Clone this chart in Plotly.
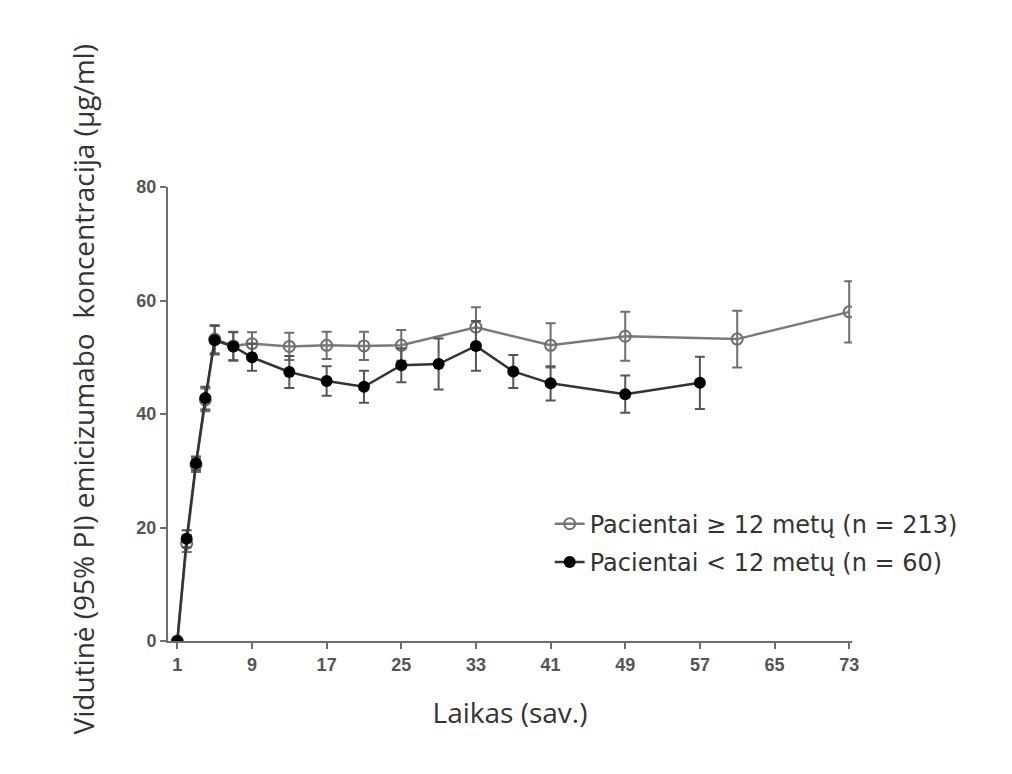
import plotly.graph_objects as go

# Patients >= 12 years (open markers)
weeks_old = [1, 2, 3, 4, 5, 7, 9, 13, 17, 21, 25, 33, 41, 49, 61, 73]
mean_old = [0, 17.2, 31.0, 42.5, 53.2, 52.0, 52.4, 51.9, 52.1, 52.0, 52.1, 55.3, 52.1, 53.7, 53.2, 58.0]
err_old = [0, 1.5, 1.2, 2.0, 2.5, 2.5, 2.0, 2.4, 2.4, 2.5, 2.7, 3.5, 3.9, 4.3, 5.0, 5.4]

# Patients < 12 years (filled markers)
weeks_young = [1, 2, 3, 4, 5, 7, 9, 13, 17, 21, 25, 29, 33, 37, 41, 49, 57]
mean_young = [0, 18.0, 31.3, 42.8, 53.0, 51.9, 50.0, 47.4, 45.8, 44.8, 48.6, 48.8, 52.0, 47.5, 45.4, 43.5, 45.5]
err_young = [0, 1.5, 1.2, 2.0, 2.5, 2.5, 2.4, 2.8, 2.6, 2.8, 3.0, 4.5, 4.4, 2.9, 3.0, 3.3, 4.6]

x_ticks = [1, 9, 17, 25, 33, 41, 49, 57, 65, 73]
y_ticks = [0, 20, 40, 60, 80]

fig = go.Figure()
fig.add_trace(go.Scatter(
    x=weeks_old, y=mean_old, mode="lines+markers",
    name="Pacientai ≥ 12 metų (n = 213)", legendgroup="a",
    line=dict(color="#7a7a7a", width=2.5),
    marker=dict(symbol="circle-open", size=11, color="#6e6e6e", line=dict(width=2)),
    error_y=dict(type="data", array=err_old, visible=True, color="#6e6e6e", thickness=2, width=5),
))
fig.add_trace(go.Scatter(
    x=weeks_young, y=mean_young, mode="lines+markers",
    name="Pacientai < 12 metų (n = 60)", legendgroup="b",
    line=dict(color="#333333", width=2.5),
    marker=dict(symbol="circle", size=12, color="#000000"),
    error_y=dict(type="data", array=err_young, visible=True, color="#555555", thickness=2, width=5),
))

fig.update_layout(
    width=1004, height=766,
    margin=dict(l=160, r=160, t=179, b=133),
    paper_bgcolor="white", plot_bgcolor="white",
    showlegend=True,
    legend=dict(x=0.558, y=0.307, xanchor="left", yanchor="top",
                font=dict(family="DejaVu Sans", size=24, color="#333333"),
                bgcolor="rgba(0,0,0,0)", itemwidth=30, tracegroupgap=4),
    xaxis=dict(range=[0, 73.3], tickvals=x_ticks, ticktext=[str(v) for v in x_ticks],
               showgrid=False, zeroline=False, showline=True, linecolor="#6e6e6e", linewidth=2,
               ticks="outside", ticklen=6, tickwidth=2, tickcolor="#6e6e6e",
               tickfont=dict(family="Liberation Sans", size=18, color="#555555", weight="bold"),
               title=dict(text="Laikas (sav.)", font=dict(family="Open Sans", size=28, color="#333333"),
                          standoff=30)),
    yaxis=dict(range=[0, 80], tickvals=y_ticks, showgrid=False, zeroline=False,
               showline=True, linecolor="#6e6e6e", linewidth=2,
               ticks="outside", ticklen=6, tickwidth=2, tickcolor="#6e6e6e",
               tickfont=dict(family="Liberation Sans", size=18, color="#555555", weight="bold")),
    annotations=[dict(
        text="Vidutinė (95% PI) emicizumabo  koncentracija (µg/ml)",
        xref="paper", yref="paper", x=-0.125, y=0.553, xanchor="center", yanchor="middle",
        textangle=-90, showarrow=False,
        font=dict(family="Open Sans", size=28, color="#333333"))],
)

fig.write_html("out.html")
